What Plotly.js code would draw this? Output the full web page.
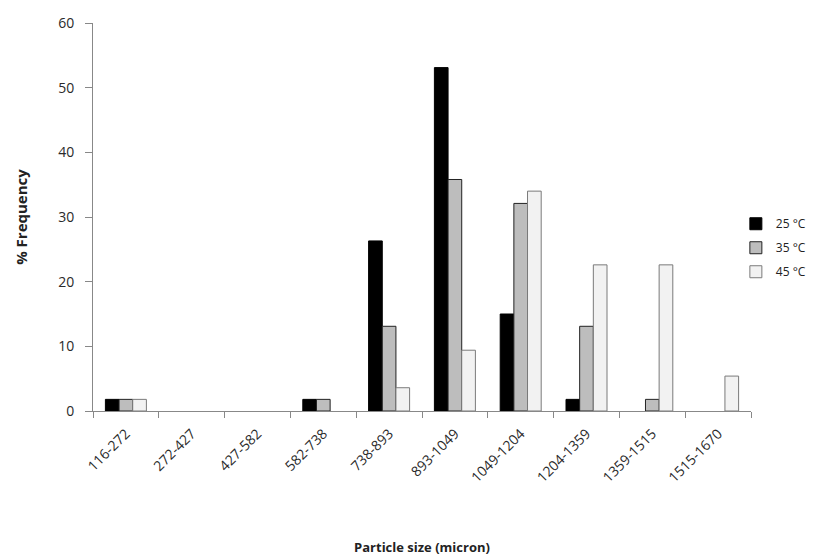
<!DOCTYPE html>
<html>
<head>
<meta charset="utf-8">
<script src="https://cdn.plot.ly/plotly-3.0.1.min.js"></script>
<style>html,body{margin:0;padding:0;background:#fff;}#chart{width:819px;height:558px;}</style>
</head>
<body>
<div id="chart"></div>
<script>
var categories = ["116-272","272-427","427-582","582-738","738-893","893-1049","1049-1204","1204-1359","1359-1515","1515-1670"];
// null = no bar drawn (0 %)
var series25 = [1.8, null, null, 1.8, 26.3, 53.1, 15.0, 1.8, null, null];
var series35 = [1.8, null, null, 1.8, 13.1, 35.8, 32.1, 13.1, 1.8, null];
var series45 = [1.8, null, null, null, 3.6, 9.4, 34.0, 22.6, 22.6, 5.4];
var seriesNames = ["25 °C", "35 °C", "45 °C"];
var yTicks = [0, 10, 20, 30, 40, 50, 60];

var fontFam = "Open Sans, Liberation Sans, sans-serif";
var traces = [
  {type:"bar", name:seriesNames[0], legendgroup:"a", x:categories, y:series25,
   marker:{color:"#000000", line:{color:"#000000", width:1}}},
  {type:"bar", name:seriesNames[1], legendgroup:"b", x:categories, y:series35,
   marker:{color:"#bdbdbd", line:{color:"#222222", width:1}}},
  {type:"bar", name:seriesNames[2], legendgroup:"c", x:categories, y:series45,
   marker:{color:"#f2f2f2", line:{color:"#7a7a7a", width:1}}}
];
var layout = {
  width:819, height:558,
  margin:{l:93, r:68, t:23, b:147, autoexpand:false},
  paper_bgcolor:"#ffffff", plot_bgcolor:"#ffffff",
  barmode:"group", bargap:0.377, bargroupgap:0,
  showlegend:true,
  legend:{x:0.977, y:0.52, xanchor:"left", yanchor:"top", itemwidth:30,
          traceorder:"grouped", tracegroupgap:5,
          font:{family:fontFam, size:12, color:"#222"},
          bgcolor:"rgba(0,0,0,0)"},
  font:{family:fontFam, size:12, color:"#222"},
  xaxis:{type:"category", tickangle:-45, tickson:"boundaries", ticks:"outside", ticklen:6,
         tickcolor:"#888", showline:true, linecolor:"#888", linewidth:1, showgrid:false,
         ticklabelstandoff:8, automargin:false,
         tickfont:{family:fontFam, size:14, color:"#2a2a2a"},
         title:{text:"<b>Particle size (micron)</b>", standoff:57, font:{family:fontFam, size:13, color:"#222"}}},
  yaxis:{range:[0,60], tickvals:yTicks, ticks:"outside", ticklen:7, tickcolor:"#888",
         showline:true, linecolor:"#888", linewidth:1, showgrid:false, zeroline:false,
         ticklabelstandoff:8, automargin:false,
         tickfont:{family:fontFam, size:14, color:"#2a2a2a"},
         title:{text:"<b>% Frequency</b>", standoff:26, font:{family:fontFam, size:15, color:"#222"}}}
};
Plotly.newPlot("chart", traces, layout, {displayModeBar:false, staticPlot:true});
</script>
</body>
</html>
